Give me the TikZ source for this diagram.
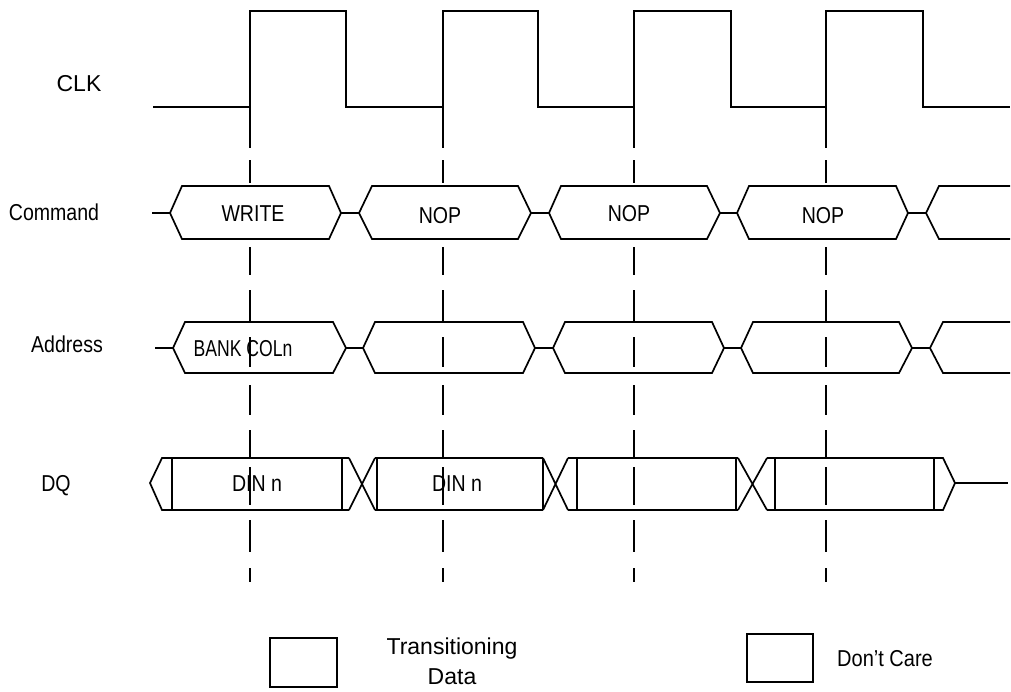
\documentclass[tikz,border=0pt]{standalone}
\usepackage{fontspec}
\setmainfont{Liberation Sans}
\newfontfamily\cond[FakeStretch=0.85]{Liberation Sans}
\tikzset{
  sig/.style={line width=1.7pt, line join=miter},
  tick/.style={line width=1.7pt},
  lbl/.style={font=\fontsize{23}{27}\selectfont\cond, text height=16.5pt, text depth=0pt, inner sep=0pt},
  clbl/.style={font=\fontsize{23}{27}\selectfont, text height=16.5pt, text depth=0pt, inner sep=0pt},
  legbox/.style={draw, line width=1.7pt, inner sep=0pt}
}
\begin{document}
\begin{tikzpicture}[x=1pt,y=-1pt]
\useasboundingbox (0,0) rectangle (1011,691);
% ---- labels
\node[clbl] (lclk) at (79,83) {CLK};
\node[lbl] (lcmd) at (54,212) {Command};
\node[lbl] (ladr) at (67,344) {Address};
\node[lbl] (ldq) at (56,483) {DQ};
% ---- clock
\draw[sig] (153,107)--(250,107)--(250,11)--(346,11)--(346,107)--(443,107)--(443,11)--(538,11)--(538,107)
  --(634,107)--(634,11)--(731,11)--(731,107)--(826,107)--(826,11)--(923,11)--(923,107)--(1010,107);
% ---- dashed clock-edge guides
\foreach \x in {250,443,634,826}{
  \foreach \a/\b in {107/148,160/183,247/275,290/322,337/367,385/415,430/458,467/505,520/552,568/582}
    \draw[tick] (\x,\a)--(\x,\b);
}
% ---- command row
\draw[sig] (152,213)--(170,213);
\foreach \l/\tl/\tr/\r in {170/182/329/341,359/372/518/531,549/561/707/720,737/749/896/908}{
  \draw[sig] (\l,213)--(\tl,186)--(\tr,186)--(\r,213)--(\tr,239)--(\tl,239)--cycle;
}
\draw[sig] (341,213)--(359,213) (531,213)--(549,213) (720,213)--(737,213) (908,213)--(926,213);
\draw[sig] (1010,186)--(939,186)--(926,213)--(939,239)--(1010,239);
\node[lbl] (c1) at (253,213) {WRITE};
\node[lbl] (c2) at (440,215) {NOP};
\node[lbl] (c3) at (629,213) {NOP};
\node[lbl] (c4) at (823,215) {NOP};
% ---- address row
\draw[sig] (155,348)--(173,348);
\foreach \l/\tl/\tr/\r in {173/185/333/346,363/375/523/535,553/565/712/724,741/753/899/912}{
  \draw[sig] (\l,348)--(\tl,322)--(\tr,322)--(\r,348)--(\tr,373)--(\tl,373)--cycle;
}
\draw[sig] (346,348)--(363,348) (535,348)--(553,348) (724,348)--(741,348) (912,348)--(930,348);
\draw[sig] (1010,322)--(943,322)--(930,348)--(943,373)--(1010,373);
\node[lbl] (a1) at (243,348) {\scalebox{0.9}[1]{BANK COLn}};
% ---- DQ row
\draw[sig] (349,458)--(162,458)--(150,483)--(162,510)--(349,510);
\draw[sig] (172,458)--(172,510) (342,458)--(342,510);
\draw[sig] (349,458)--(375,510) (349,510)--(375,458);
\draw[sig] (375,458)--(543,458) (375,510)--(543,510) (377,458)--(377,510) (543,458)--(543,510);
\draw[sig] (543,458)--(568,510) (543,510)--(568,458);
\draw[sig] (568,458)--(738,458) (568,510)--(738,510) (577,458)--(577,510) (736,458)--(736,510);
\draw[sig] (738,458)--(767,510) (738,510)--(767,458);
\draw[sig] (767,458)--(943,458)--(955,483)--(943,510)--(767,510) (775,458)--(775,510) (934,458)--(934,510);
\draw[sig] (955,483)--(1008,483);
\node[lbl] (d1) at (257,483) {DIN n};
\node[lbl] (d2) at (457,483) {DIN n};
% ---- legend
\node[legbox, minimum width=67pt, minimum height=49pt] (leg1) at (303.5,662.5) {};
\node[clbl] (leg1t) at (452,646) {Transitioning};
\node[clbl] (leg1d) at (452,676) {Data};
\node[legbox, minimum width=66pt, minimum height=48pt] (leg2) at (780,658) {};
\node[lbl, font=\fontsize{23}{27}\selectfont\addfontfeature{FakeStretch=0.87}] (leg2t) at (885,658) {Don’t Care};
\end{tikzpicture}
\end{document}
